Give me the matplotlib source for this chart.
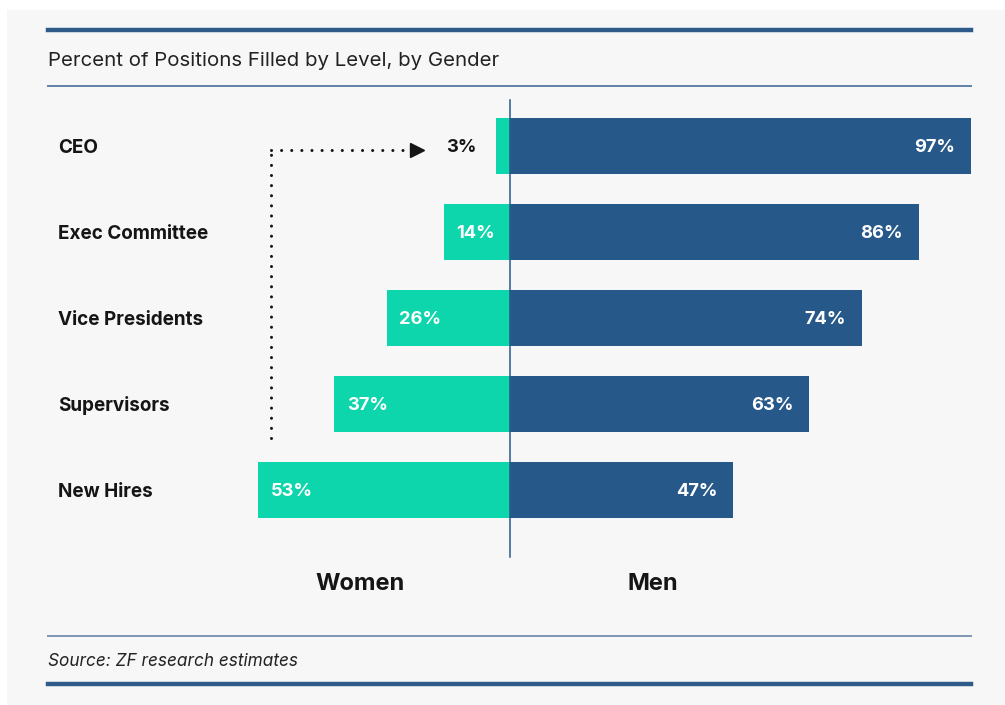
import matplotlib.pyplot as plt
from matplotlib.patches import Rectangle
from matplotlib.lines import Line2D
from matplotlib.transforms import blended_transform_factory

plt.rcParams["font.family"] = ["Inter", "DejaVu Sans"]

# positions filled, in percent
levels = ["CEO", "Exec Committee", "Vice Presidents", "Supervisors", "New Hires"]
women = [3, 14, 26, 37, 53]
men = [97, 86, 74, 63, 47]

TEAL = "#0dd5ac"
NAVY = "#27588a"
INK = "#151515"

W, H = 1005, 705
PX_PER_PCT = 4.75
CENTER_X = 510
ROW_TOP, ROW_STEP = 146, 86


def fx(px):
    return px / W


def fy(py):
    return 1 - py / H


fig = plt.figure(figsize=(W / 100, H / 100), dpi=100)
fig.patch.set_facecolor("white")
fig.add_artist(Rectangle((fx(7), 0), 1, fy(10), transform=fig.transFigure,
                         facecolor="#f7f7f7", edgecolor="none", zorder=0))

ax = fig.add_axes([0, 0, 1, 1])
ax.set_facecolor("none")
ax.axis("off")
ax.set_xlim(-CENTER_X / PX_PER_PCT, (W - CENTER_X) / PX_PER_PCT)
ax.set_ylim((H - ROW_TOP) / ROW_STEP, -ROW_TOP / ROW_STEP)

rows = list(range(len(levels)))
ax.barh(rows, [-w for w in women], height=0.64, color=TEAL, zorder=2)
ax.barh(rows, men, height=0.64, color=NAVY, zorder=2)
ax.axvline(0, ymin=fy(557), ymax=fy(100), color=NAVY, lw=1.1, zorder=3)

# value labels (nudged down a touch so digits sit in the middle of the bar)
for i, (w, m) in enumerate(zip(women, men)):
    if w < 10:
        ax.annotate(f"{w}%", (-w, i), xytext=(-14, -1.2), textcoords="offset points",
                    ha="right", va="center", fontsize=13.2, fontweight="bold", color=INK)
    else:
        ax.annotate(f"{w}%", (-w, i), xytext=(9, -1.2), textcoords="offset points",
                    ha="left", va="center", fontsize=13.2, fontweight="bold", color="white")
    ax.annotate(f"{m}%", (m, i), xytext=(-11.5, -1.2), textcoords="offset points",
                ha="right", va="center", fontsize=13.2, fontweight="bold", color="white")

# level names on the left
label_tf = blended_transform_factory(fig.transFigure, ax.transData)
for i, name in enumerate(levels):
    ax.annotate(name, (fx(58), i), xycoords=label_tf, xytext=(0, -1.2),
                textcoords="offset points", ha="left", va="center",
                fontsize=13.6, fontweight="bold", color=INK)

# dotted pointer to the CEO figure
dot_y = 0.05
ax.plot([-50.3, -50.3], [3.4, dot_y], color=INK, lw=2.2,
        linestyle=(0, (0.01, 3.3)), dash_capstyle="round", zorder=3)
ax.plot([-50.3, -21.5], [dot_y, dot_y], color=INK, lw=2.2,
        linestyle=(0, (0.01, 3.3)), dash_capstyle="round", zorder=3)
ax.plot([-19.6], [dot_y], marker=">", markersize=10, color=INK, zorder=3)

ax.text(-31.5, (584 - ROW_TOP) / ROW_STEP, "Women", ha="center", va="center",
        fontsize=17, fontweight="bold", color=INK)
ax.text(30, (584 - ROW_TOP) / ROW_STEP, "Men", ha="center", va="center",
        fontsize=17, fontweight="bold", color=INK)

# header / footer rules and text
for py, lw, col in [(30, 3.2, "#2f5b8a"), (86, 1.4, "#5f82aa"),
                    (636, 1.4, "#7f97b5"), (684, 3.2, "#2f5b8a")]:
    fig.add_artist(Line2D([fx(48), fx(971)], [fy(py), fy(py)], lw=lw, color=col,
                          transform=fig.transFigure))

fig.text(fx(48), fy(61), "Percent of Positions Filled by Level, by Gender",
         ha="left", va="center", fontsize=14.7, color="#222222")
fig.text(fx(48), fy(662), "Source: ZF research estimates", ha="left", va="center",
         fontsize=12.4, style="italic", color="#222222")

fig.savefig("out.png", dpi=100, facecolor=fig.get_facecolor())
